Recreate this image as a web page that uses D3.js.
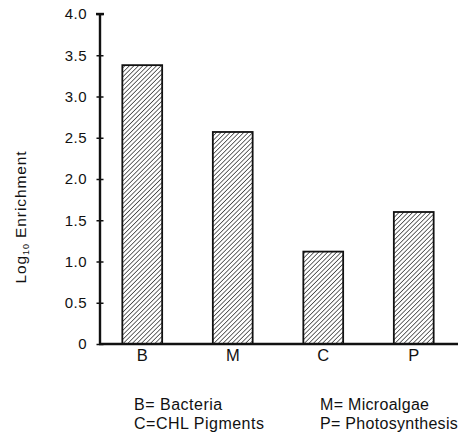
<!DOCTYPE html>
<html><head><meta charset="utf-8">
<script src="https://cdn.jsdelivr.net/npm/d3@7"></script>
<style>body{margin:0;background:#fff;} svg{display:block;font-family:"Liberation Sans",Arial,sans-serif;}</style>
</head><body>
<script>
const categories = ["B","M","C","P"];
const values = [3.38, 2.57, 1.12, 1.60];
const yTicks = [0,0.5,1.0,1.5,2.0,2.5,3.0,3.5,4.0];
const yTickLabels = ["0","0.5","1.0","1.5","2.0","2.5","3.0","3.5","4.0"];
const legendLeft = ["B= Bacteria","C=CHL Pigments"];
const legendRight = ["M= Microalgae","P= Photosynthesis"];

const W=458,H=436;
const svg=d3.select("body").append("svg").attr("width",W).attr("height",H);
const defs=svg.append("defs");
const pat=defs.append("pattern").attr("id","hatch").attr("patternUnits","userSpaceOnUse")
  .attr("width",3.2).attr("height",3.2).attr("patternTransform","rotate(45)");
pat.append("rect").attr("width",3.2).attr("height",3.2).attr("fill","#fff");
pat.append("line").attr("x1",0).attr("y1",0).attr("x2",0).attr("y2",3.2).attr("stroke","#1a1a1a").attr("stroke-width",1.3);

const y=d3.scaleLinear().domain([0,4]).range([344,14]);
const x=d3.scaleBand().domain(categories).range([97,459]).paddingInner(0.56).paddingOuter(0.28);

// bars
svg.selectAll("rect.bar").data(categories).enter().append("rect").attr("class","bar")
  .attr("x",d=>x(d)).attr("width",x.bandwidth())
  .attr("y",(d,i)=>y(values[i])).attr("height",(d,i)=>y(0)-y(values[i]))
  .attr("fill","url(#hatch)").attr("stroke","#111").attr("stroke-width",1.8);

// y axis
const yAxis=d3.axisLeft(y).tickValues(yTicks).tickFormat((d,i)=>yTickLabels[i]).tickSize(0).tickPadding(13);
const ga=svg.append("g").attr("transform","translate(100,0)").call(yAxis);
ga.select(".domain").remove();
ga.selectAll("text").attr("font-size",15).attr("letter-spacing",0.5).attr("fill","#111").attr("font-family","Liberation Sans, Arial, sans-serif");
ga.selectAll(".tick").append("line").attr("x1",-3.5).attr("x2",3.5).attr("stroke","#111").attr("stroke-width",1.5);
svg.append("line").attr("x1",100).attr("x2",100).attr("y1",y(4)).attr("y2",y(0)+1).attr("stroke","#111").attr("stroke-width",2.4);
svg.append("line").attr("x1",96).attr("x2",104).attr("y1",y(4)).attr("y2",y(4)).attr("stroke","#111").attr("stroke-width",2.4);

// x axis
const xAxis=d3.axisBottom(x).tickSize(0).tickPadding(5);
const gx=svg.append("g").attr("transform","translate(0,344)").call(xAxis);
gx.select(".domain").remove();
gx.selectAll("text").attr("font-size",16.5).attr("fill","#111").attr("font-family","Liberation Sans, Arial, sans-serif");
svg.append("line").attr("x1",99).attr("x2",458).attr("y1",344).attr("y2",344).attr("stroke","#111").attr("stroke-width",2.6);

// y label
const yl=svg.append("text").attr("transform","translate(26,217) rotate(-90)").attr("text-anchor","middle")
  .attr("font-size",15.5).attr("letter-spacing",0.9).attr("fill","#111");
yl.append("tspan").text("Log");
yl.append("tspan").attr("font-size",9).attr("dy",3).text("10");
yl.append("tspan").attr("dy",-3).text(" Enrichment");

// legend
svg.selectAll("text.ll").data(legendLeft).enter().append("text").attr("class","ll")
  .attr("x",134).attr("y",(d,i)=>410+i*19).attr("font-size",16).attr("letter-spacing",0.5).attr("fill","#111").text(d=>d);
svg.selectAll("text.lr").data(legendRight).enter().append("text").attr("class","lr")
  .attr("x",320).attr("y",(d,i)=>410+i*19).attr("font-size",16).attr("letter-spacing",0.3).attr("fill","#111").text(d=>d);
</script>
</body></html>
